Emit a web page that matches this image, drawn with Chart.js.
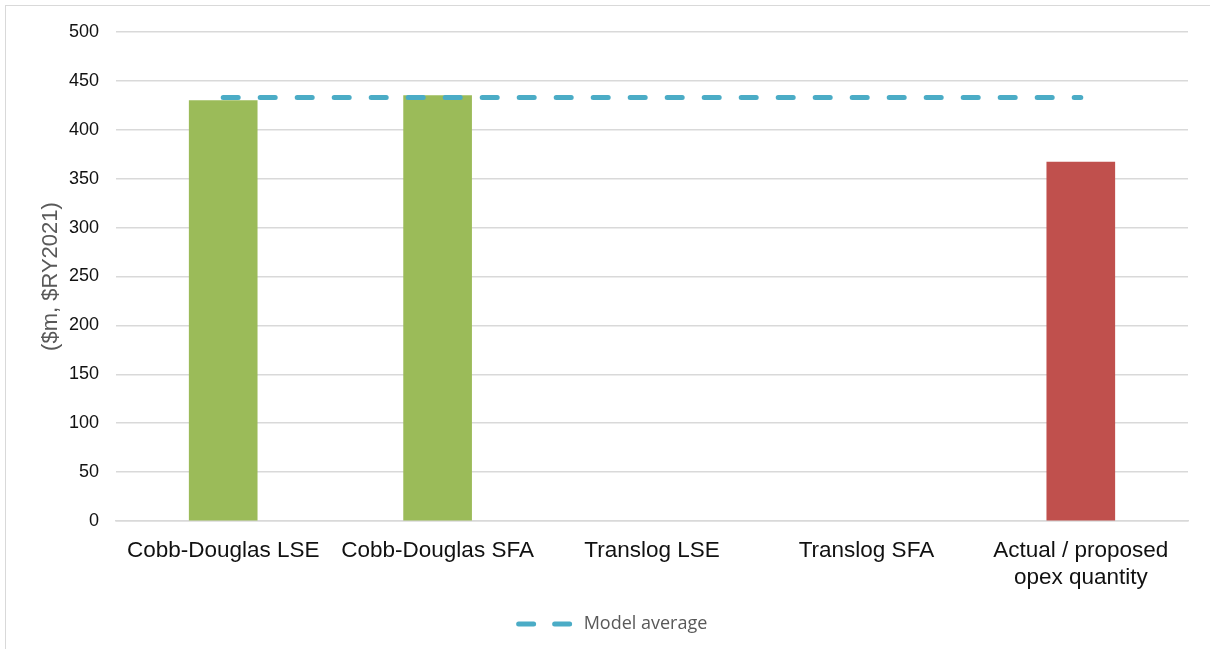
<!DOCTYPE html>
<html lang="en">
<head>
  <meta charset="UTF-8" />
  <title>Opex quantity by model</title>
  <script src="https://cdn.jsdelivr.net/npm/chart.js@4.4.3/dist/chart.umd.js"></script>
  <style>
    *{box-sizing:border-box;margin:0;padding:0}
    html,body{width:1210px;height:649px;overflow:hidden;background:#fff}
    .frame{position:absolute;left:5px;top:5px;width:1220px;height:660px;border:1px solid #d9d9d9}
    .wrap{position:absolute;left:0;top:0;width:1210px;height:649px}
  </style>
</head>
<body>
  <div class="frame"></div>
  <div class="wrap"><canvas id="opexChart"></canvas></div>

  <script>
    /* ==== DATA ==== */
    const categories = ['Cobb-Douglas LSE', 'Cobb-Douglas SFA', 'Translog LSE', 'Translog SFA', ['Actual / proposed', 'opex quantity']];
    const opexValues = [430, 435, null, null, 367];
    const modelAverage = [433, 433, 433, 433, 433];
    const barColours = ['#9bbb59', '#9bbb59', '#9bbb59', '#9bbb59', '#c0504d'];

    const AVG_COLOUR = '#4bacc6';
    const AVG_DASH = [15, 22];

    const ctx = document.getElementById('opexChart').getContext('2d');
    new Chart(ctx, {
      type: 'bar',
      data: {
        labels: categories,
        datasets: [
          {
            type: 'line',
            label: 'Model average',
            data: modelAverage,
            borderColor: AVG_COLOUR,
            backgroundColor: AVG_COLOUR,
            borderWidth: 5,
            borderDash: AVG_DASH,
            borderCapStyle: 'round',
            pointRadius: 0,
            pointHoverRadius: 0,
            tension: 0,
            order: 0
          },
          {
            label: 'Opex',
            data: opexValues,
            backgroundColor: barColours,
            barThickness: 68,
            order: 1
          }
        ]
      },
      options: {
        responsive: true,
        maintainAspectRatio: false,
        animation: false,
        // left padding also nudges the centred legend to the right
        layout: {padding: {top: 32, right: 22, left: 38, bottom: 6}},
        scales: {
          x: {
            afterFit: s => { s.height = 80; },
            grid: {display: false},
            border: {display: true, color: '#d9d9d9', width: 1.5},
            ticks: {
              autoSkip: false, maxRotation: 0, minRotation: 0, padding: 8,
              color: '#111', font: {family: '"Liberation Sans", Arial, sans-serif', size: 22.5}
            }
          },
          y: {
            min: 0, max: 500,
            afterFit: s => { s.width = 78; },
            border: {display: false},
            grid: {color: '#d9d9d9', lineWidth: 1.5, drawTicks: false},
            ticks: {
              stepSize: 50, padding: 17,
              color: '#111', font: {family: '"Liberation Sans", Arial, sans-serif', size: 18}
            },
            title: {
              display: true, text: '($m, $RY2021)', color: '#595959',
              padding: {top: 0, bottom: 0},
              font: {family: '"Liberation Sans", Arial, sans-serif', size: 22}
            }
          }
        },
        plugins: {
          legend: {
            position: 'bottom',
            labels: {
              // only the average line goes in the legend, drawn dashed like the series
              filter: item => {
                if (item.text !== 'Model average') return false;
                item.lineDash = [15, 21];
                item.lineCap = 'round';
                item.lineWidth = 5;
                item.strokeStyle = AVG_COLOUR;
                return true;
              },
              usePointStyle: true, pointStyle: 'line', pointStyleWidth: 56,
              color: '#595959', padding: 14,
              font: {family: '"Open Sans", sans-serif', size: 18}
            }
          },
          tooltip: {enabled: false}
        }
      }
    });
  </script>
</body>
</html>
